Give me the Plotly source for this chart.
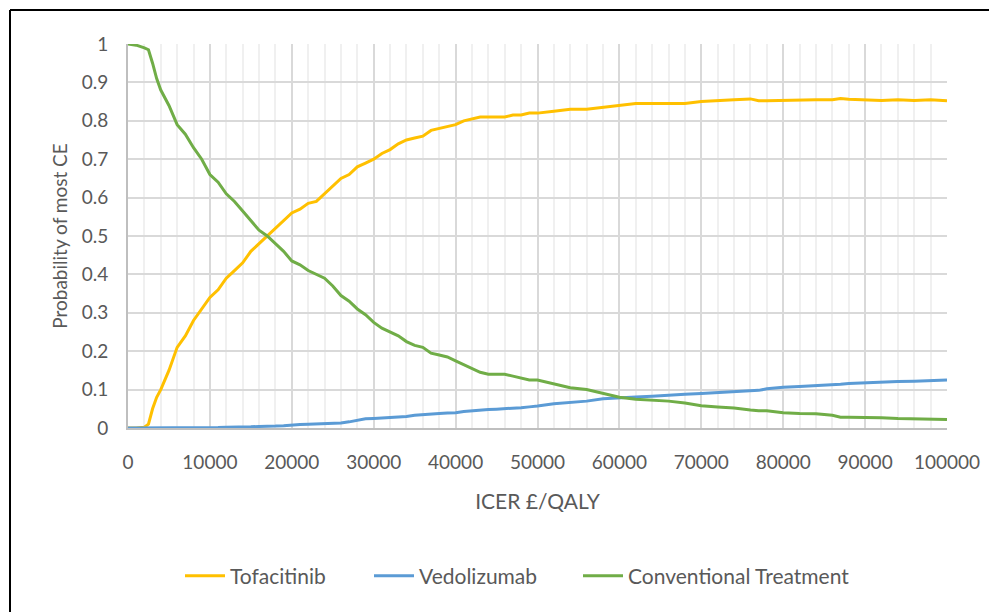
import plotly.graph_objects as go

# ---- data ----
icer = [0, 1000, 2000, 2500, 3000, 3500, 4000, 5000, 6000, 7000, 8000, 9000, 10000,
        11000, 12000, 13000, 14000, 15000, 16000, 17000, 18000, 19000, 20000,
        21000, 22000, 23000, 24000, 25000, 26000, 27000, 28000, 29000, 30000,
        31000, 32000, 33000, 34000, 35000, 36000, 37000, 38000, 39000, 40000,
        41000, 42000, 43000, 44000, 45000, 46000, 47000, 48000, 49000, 50000,
        52000, 54000, 56000, 58000, 60000, 62000, 64000, 66000, 68000, 70000,
        72000, 74000, 76000, 77000, 78000, 80000, 82000, 84000, 86000, 87000,
        88000, 90000, 92000, 94000, 96000, 98000, 100000]

tofacitinib = [0.0, 0.0, 0.002, 0.01, 0.05, 0.08, 0.10, 0.15, 0.21, 0.24, 0.28, 0.31, 0.34,
               0.36, 0.39, 0.41, 0.43, 0.46, 0.48, 0.50, 0.52, 0.54, 0.56,
               0.57, 0.585, 0.59, 0.61, 0.63, 0.65, 0.66, 0.68, 0.69, 0.70,
               0.715, 0.725, 0.74, 0.75, 0.755, 0.76, 0.775, 0.78, 0.785, 0.79,
               0.80, 0.805, 0.81, 0.81, 0.81, 0.81, 0.815, 0.815, 0.82, 0.82,
               0.825, 0.83, 0.83, 0.835, 0.84, 0.845, 0.845, 0.845, 0.845, 0.85,
               0.853, 0.855, 0.857, 0.852, 0.852, 0.853, 0.855, 0.855, 0.855, 0.858,
               0.856, 0.855, 0.853, 0.855, 0.853, 0.855, 0.852]

vedolizumab = [0.0, 0.0, 0.0, 0.0, 0.0, 0.0, 0.0, 0.0, 0.0, 0.0, 0.0, 0.0, 0.001,
               0.001, 0.002, 0.002, 0.003, 0.003, 0.004, 0.004, 0.005, 0.006, 0.008,
               0.009, 0.01, 0.011, 0.012, 0.012, 0.013, 0.016, 0.02, 0.024, 0.025,
               0.026, 0.028, 0.029, 0.03, 0.033, 0.035, 0.037, 0.038, 0.039, 0.04,
               0.043, 0.045, 0.047, 0.048, 0.049, 0.05, 0.052, 0.053, 0.055, 0.057,
               0.063, 0.066, 0.07, 0.076, 0.079, 0.081, 0.083, 0.086, 0.088, 0.09,
               0.092, 0.094, 0.096, 0.098, 0.102, 0.106, 0.108, 0.11, 0.113, 0.114,
               0.116, 0.118, 0.12, 0.121, 0.122, 0.123, 0.125]

conventional = [1.0, 0.997, 0.99, 0.985, 0.95, 0.91, 0.88, 0.84, 0.79, 0.765, 0.73, 0.70, 0.66,
                0.64, 0.61, 0.59, 0.565, 0.54, 0.515, 0.50, 0.48, 0.46, 0.435,
                0.425, 0.41, 0.40, 0.39, 0.37, 0.345, 0.33, 0.31, 0.295, 0.275,
                0.26, 0.25, 0.24, 0.225, 0.215, 0.21, 0.195, 0.19, 0.185, 0.175,
                0.165, 0.155, 0.145, 0.14, 0.14, 0.14, 0.135, 0.13, 0.125, 0.125,
                0.115, 0.105, 0.10, 0.09, 0.08, 0.075, 0.072, 0.07, 0.065, 0.058,
                0.055, 0.052, 0.047, 0.045, 0.045, 0.04, 0.038, 0.037, 0.033, 0.028,
                0.028, 0.028, 0.027, 0.025, 0.024, 0.022, 0.022]

series_names = ["Tofacitinib", "Vedolizumab", "Conventional Treatment"]
series_colors = ["#FFC000", "#5B9BD5", "#70AD47"]

x_tickvals = [0, 10000, 20000, 30000, 40000, 50000, 60000, 70000, 80000, 90000, 100000]
x_ticktext = ["0", "10000", "20000", "30000", "40000", "50000", "60000", "70000", "80000", "90000", "100000"]
y_tickvals = [0, 0.1, 0.2, 0.3, 0.4, 0.5, 0.6, 0.7, 0.8, 0.9, 1.0]
y_ticktext = ["0", "0.1", "0.2", "0.3", "0.4", "0.5", "0.6", "0.7", "0.8", "0.9", "1"]

x_title = "ICER £/QALY"
y_title = "Probability of most CE"

FONT = "Lato"
TXT = "#595959"

OFF = 8  # page body margin
W, H = 997 - OFF, 612 - OFF
L, R, T, B = 128 - OFF, 50, 44 - OFF, 184
PW, PH = W - L - R, H - T - B


def px_x(p):
    return (p - OFF - L) / PW


def px_y(p):
    return (H + OFF - B - p) / PH


legend_keys = ["legend", "legend2", "legend3"]
legend_px = [180, 369, 578]

fig = go.Figure()
for name, ys, col, lk in zip(series_names, [tofacitinib, vedolizumab, conventional],
                             series_colors, legend_keys):
    fig.add_trace(go.Scatter(x=icer, y=ys, mode="lines", name=name, legend=lk,
                             line=dict(color=col, width=3)))

legend_layout = {}
for lk, lx in zip(legend_keys, legend_px):
    legend_layout[lk] = dict(x=px_x(lx), xanchor="left", y=px_y(576), yanchor="middle",
                             bgcolor="rgba(0,0,0,0)", itemwidth=40,
                             font=dict(size=21, color=TXT, family=FONT))

fig.update_layout(
    width=W, height=H,
    margin=dict(l=L, r=R, t=T, b=B),
    paper_bgcolor="white", plot_bgcolor="white",
    font=dict(family=FONT, color=TXT, size=19),
    showlegend=True,
    **legend_layout,
    xaxis=dict(range=[0, 100000], tickvals=x_tickvals, ticktext=x_ticktext,
               showgrid=True, gridcolor="#D9D9D9", gridwidth=2,
               minor=dict(dtick=2000, showgrid=True, gridcolor="#F0F0F0", gridwidth=2),
               showline=True, linecolor="#BFBFBF", linewidth=2,
               ticks="", zeroline=False, automargin=False, ticklabelstandoff=16,
               title=dict(text=x_title, standoff=23, font=dict(size=21, color=TXT))),
    yaxis=dict(range=[0, 1.0], tickvals=y_tickvals, ticktext=y_ticktext,
               showgrid=True, gridcolor="#D9D9D9", gridwidth=2,
               showline=True, linecolor="#BFBFBF", linewidth=2,
               ticks="", zeroline=False, ticklabelstandoff=14, automargin=False,
               title=dict(text=y_title, standoff=9, font=dict(size=19, color=TXT))),
    shapes=[
        dict(type="line", xref="paper", yref="paper", x0=px_x(10), x1=px_x(1000),
             y0=px_y(10), y1=px_y(10), line=dict(color="black", width=2)),
        dict(type="line", xref="paper", yref="paper", x0=px_x(10), x1=px_x(10),
             y0=px_y(10), y1=px_y(620), line=dict(color="black", width=2)),
    ],
)

fig.write_html("out.html")
